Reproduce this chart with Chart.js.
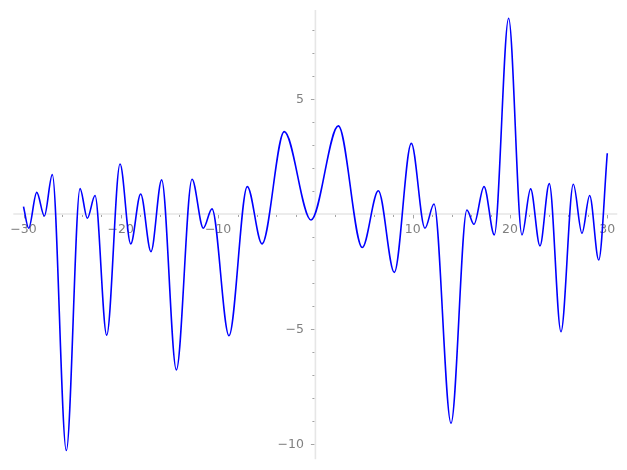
<!DOCTYPE html>
<html>
<head>
<meta charset="utf-8">
<script src="https://cdn.jsdelivr.net/npm/chart.js@4.4.1/dist/chart.umd.min.js"></script>
<style>
  html, body { margin: 0; padding: 0; background: #fff; }
  #wrap { width: 627px; height: 470px; }
</style>
</head>
<body>
<div id="wrap"><canvas id="chart"></canvas></div>
<script>
// curve: local extrema plus the two ends
const xValues = [-30, -29.47, -28.64, -27.86, -27.04, -25.6, -24.19, -23.44, -22.65, -21.45,
    -20.08, -18.98, -17.96, -16.9, -15.8, -14.29, -12.68, -11.52, -10.63, -8.88,
    -7.0, -5.49, -3.2, -0.45, 2.36, 4.82, 6.47, 8.11, 9.86, 11.26,
    12.19, 13.94, 15.57, 16.3, 17.33, 18.39, 19.86, 21.23, 22.12, 23.08,
    24.04, 25.24, 26.51, 27.4, 28.19, 29.12, 30];
const yValues = [0.32, -0.62, 0.94, -0.09, 1.71, -10.29, 1.10, -0.19, 0.80, -5.27,
    2.17, -1.30, 0.87, -1.64, 1.48, -6.78, 1.51, -0.62, 0.22, -5.29,
    1.19, -1.30, 3.58, -0.26, 3.83, -1.46, 1.01, -2.54, 3.07, -0.62,
    0.43, -9.10, 0.17, -0.45, 1.19, -0.91, 8.51, -0.91, 1.09, -1.39,
    1.32, -5.12, 1.29, -0.84, 0.80, -2.00, 2.64];

const xTickLabels = [-30, -20, -10, 10, 20, 30];
const yTickLabels = [-10, -5, 5];
const xMinorStep = 2;
const yMinorStep = 1;

const axisColor = "#e6e6e6";
const tickColor = "#8c8c8c";
const labelColor = "#808080";
const labelFont = "12.5px 'DejaVu Sans'";

const fmt = (v) => (v < 0 ? "\u2212" + Math.abs(v) : String(v));

// spines through the origin, matplotlib style
const centerAxes = {
    id: "centerAxes",
    beforeDatasetsDraw(chart) {
        const { ctx, chartArea: a, scales: { x, y } } = chart;
        const x0 = x.getPixelForValue(0);
        const y0 = y.getPixelForValue(0);

        ctx.save();
        ctx.strokeStyle = axisColor;
        ctx.lineWidth = 1.6;
        ctx.beginPath();
        ctx.moveTo(a.left, y0);
        ctx.lineTo(a.right, y0);
        ctx.moveTo(x0, a.top);
        ctx.lineTo(x0, a.bottom);
        ctx.stroke();

        ctx.strokeStyle = tickColor;
        ctx.lineWidth = 0.8;
        ctx.beginPath();
        for (let v = -30; v <= 30; v += xMinorStep) {
            if (v === 0) continue;
            const px = Math.round(x.getPixelForValue(v)) + 0.5;
            const len = v % 10 === 0 ? 3.5 : 2;
            ctx.moveTo(px, y0 + 1);
            ctx.lineTo(px, y0 + 1 + len);
        }
        for (let v = -10; v <= 8; v += yMinorStep) {
            if (v === 0) continue;
            const py = Math.round(y.getPixelForValue(v)) + 0.5;
            const len = v % 5 === 0 ? 3.5 : 2;
            ctx.moveTo(x0 - 1, py);
            ctx.lineTo(x0 - 1 - len, py);
        }
        ctx.stroke();

        ctx.fillStyle = labelColor;
        ctx.font = labelFont;
        ctx.textAlign = "center";
        ctx.textBaseline = "middle";
        xTickLabels.forEach((v) => {
            ctx.fillText(fmt(v), x.getPixelForValue(v), y0 + 16);
        });
        ctx.textAlign = "right";
        yTickLabels.forEach((v) => {
            ctx.fillText(fmt(v), x0 - 11.5, y.getPixelForValue(v) + 0.5);
        });
        ctx.restore();
    }
};

const points = xValues.map((v, i) => ({ x: v, y: yValues[i] }));

new Chart(document.getElementById("chart"), {
    type: "scatter",
    data: {
        datasets: [{
            data: points,
            showLine: true,
            borderColor: "#0000ff",
            borderWidth: 1.6,
            pointRadius: 0,
            cubicInterpolationMode: "monotone",
            fill: false
        }]
    },
    options: {
        responsive: true,
        maintainAspectRatio: false,
        animation: false,
        layout: { padding: { left: 13.3, right: 9.7, top: 10, bottom: 10.7 } },
        plugins: { legend: { display: false }, tooltip: { enabled: false } },
        scales: {
            x: { type: "linear", min: -31.05, max: 31.03, display: false },
            y: { type: "linear", min: -10.67, max: 8.87, display: false }
        }
    },
    plugins: [centerAxes]
});
</script>
</body>
</html>
